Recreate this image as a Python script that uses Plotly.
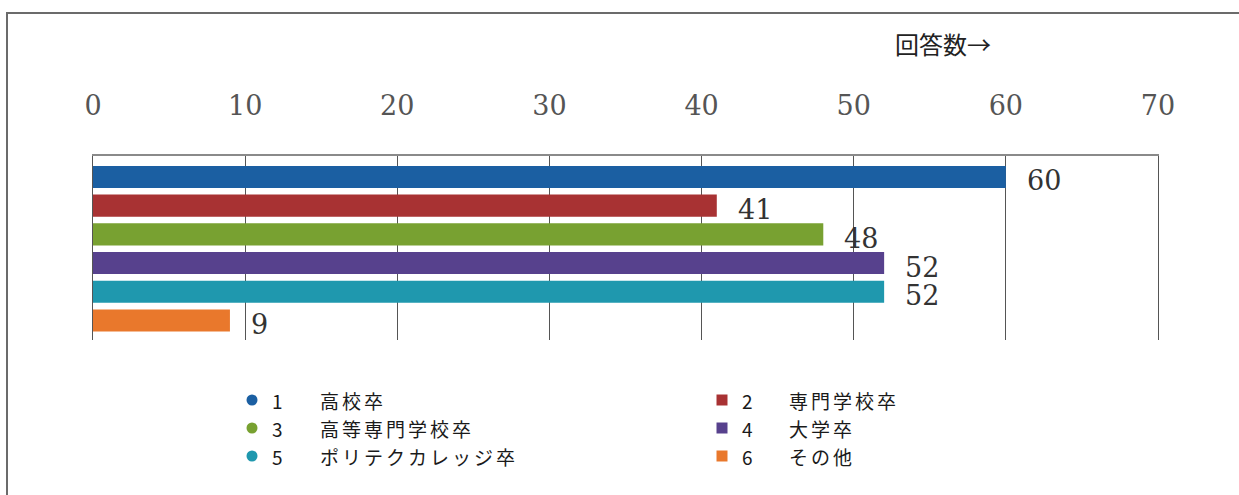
import plotly.graph_objects as go

# Survey: final education of respondents (number of answers)
codes = ["1", "2", "3", "4", "5", "6"]
categories = ["高校卒", "専門学校卒", "高等専門学校卒", "大学卒", "ポリテクカレッジ卒", "その他"]
answers = [60, 41, 48, 52, 52, 9]
colors = ["#1b5fa2", "#a83233", "#78a131", "#57418d", "#1f98ae", "#e9782c"]
legend_symbols = ["circle", "square", "circle", "square", "circle", "square"]
x_ticks = [0, 10, 20, 30, 40, 50, 60, 70]
axis_title = "回答数→"

W, H = 1239, 495
ML, MR, MT, MB = 93, 81, 156, 155
PW, PH = W - ML - MR, H - MT - MB


def px(x):
    return (x - ML) / PW


def py(y):
    return (H - MB - y) / PH


SERIF = "DejaVu Serif"
JP = "Noto Sans CJK JP"

fig = go.Figure()
fig.add_trace(go.Bar(
    x=answers,
    y=categories,
    orientation="h",
    marker=dict(color=colors, line=dict(width=0)),
    showlegend=False,
    hoverinfo="x+y",
))

annotations = []
# value labels to the right of each bar
for cat, val in zip(categories, answers):
    annotations.append(dict(
        x=val, y=cat, xref="x", yref="y", text=str(val),
        showarrow=False, xanchor="left", yanchor="middle",
        xshift=19, yshift=-4,
        font=dict(family=SERIF, size=27, color="#333333"),
    ))

# axis title above the tick labels
annotations.append(dict(
    x=px(893), y=py(43), xref="paper", yref="paper", text=axis_title,
    showarrow=False, xanchor="left", yanchor="middle",
    font=dict(family=JP, size=24, color="#222222"),
))

shapes = []
# outer frame
shapes.append(dict(
    type="rect", xref="paper", yref="paper",
    x0=px(7), x1=px(W + 10), y0=py(H + 10), y1=py(13),
    line=dict(color="#6b6b6b", width=2), fillcolor="rgba(0,0,0,0)", layer="below",
))

# two-column legend below the chart (entries run left-right, then down)
col_x = [(252, 277, 318), (722, 747, 787)]
row_y = [400, 428, 456]
msize = 11
legend_font = dict(family=JP, size=19, color="#1a1a1a")
for i, (code, cat, col, sym) in enumerate(zip(codes, categories, colors, legend_symbols)):
    mx, nx, tx = col_x[i % 2]
    yy = row_y[i // 2]
    shapes.append(dict(
        type="circle" if sym == "circle" else "rect",
        xref="paper", yref="paper",
        x0=px(mx - msize / 2), x1=px(mx + msize / 2),
        y0=py(yy + msize / 2), y1=py(yy - msize / 2),
        fillcolor=col, line=dict(width=0),
    ))
    annotations.append(dict(
        x=px(nx), y=py(yy), xref="paper", yref="paper", text=code,
        showarrow=False, xanchor="center", yanchor="middle",
        font=legend_font,
    ))
    annotations.append(dict(
        x=px(tx), y=py(yy), xref="paper", yref="paper",
        text='<span style="letter-spacing:3px">%s</span>' % cat,
        showarrow=False, xanchor="left", yanchor="middle",
        font=legend_font,
    ))

fig.update_layout(
    width=W, height=H,
    margin=dict(l=ML, r=MR, t=MT, b=MB, pad=0),
    paper_bgcolor="white", plot_bgcolor="white",
    bargap=0.23,
    showlegend=False,
    xaxis=dict(
        side="top", range=[0, 70], tickvals=x_ticks,
        ticks="", ticklabelstandoff=28,
        tickfont=dict(family=SERIF, size=27, color="#555555"),
        showgrid=True, gridcolor="#555555", gridwidth=1,
        showline=True, linecolor="#8a8a8a", linewidth=2,
        zeroline=False, fixedrange=True,
    ),
    yaxis=dict(
        type="category", range=[5.68, -0.73],
        showticklabels=False, ticks="",
        showgrid=False, zeroline=False,
        showline=True, linecolor="#555555", linewidth=1, mirror=True,
        fixedrange=True,
    ),
    annotations=annotations,
    shapes=shapes,
)

fig.write_html("out.html", config={"displayModeBar": False})
